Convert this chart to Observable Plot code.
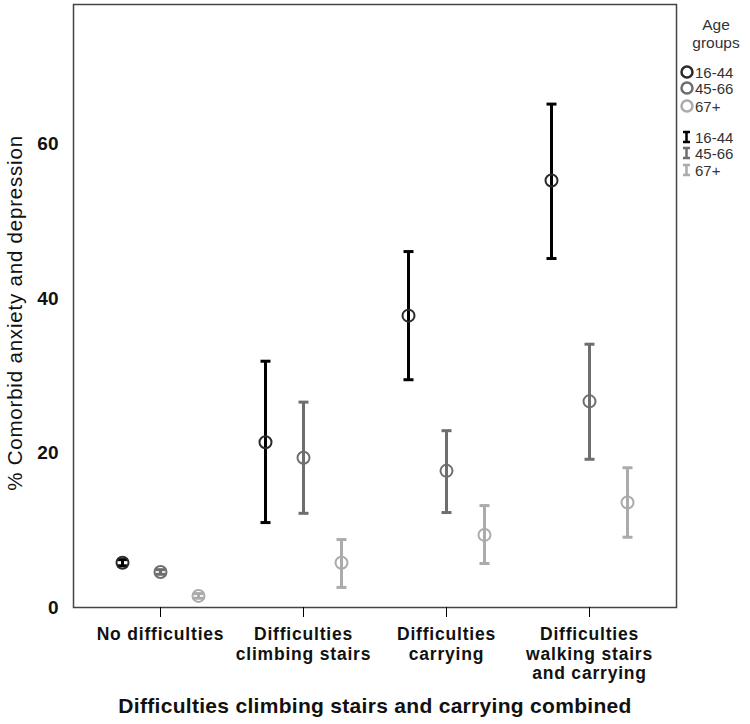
<!DOCTYPE html>
<html><head><meta charset="utf-8">
<script src="https://cdn.jsdelivr.net/npm/d3@7"></script>
<script src="https://cdn.jsdelivr.net/npm/@observablehq/plot@0.6"></script>
<style>
body{margin:0;background:#fff;font-family:"Liberation Sans",Arial,sans-serif}
#wrap{position:relative;width:750px;height:724px;overflow:hidden}
#legend{position:absolute;left:680px;top:0}
</style></head><body><div id="wrap"><div id="chart"></div><div id="legend"></div></div>
<script>
const categories = ["No difficulties","Difficulties climbing stairs","Difficulties carrying","Difficulties walking stairs and carrying"];
const categoryLabels = ["No difficulties","Difficulties\nclimbing stairs","Difficulties\ncarrying","Difficulties\nwalking stairs\nand carrying"];
const ageGroups = ["16-44","45-66","67+"];
const mean1644 = [5.8, 21.4, 37.8, 55.3];
const low1644  = [5.4, 11.0, 29.5, 45.2];
const high1644 = [6.2, 31.9, 46.1, 65.2];
const mean4566 = [4.6, 19.4, 17.7, 26.7];
const low4566  = [4.3, 12.2, 12.3, 19.2];
const high4566 = [4.9, 26.6, 22.9, 34.1];
const mean67   = [1.5, 5.8, 9.4, 13.6];
const low67    = [1.2, 2.6, 5.7, 9.1];
const high67   = [1.8, 8.8, 13.2, 18.1];
const yTicks = [0, 20, 40, 60];
const xTitle = "Difficulties climbing stairs and carrying combined";
const yTitle = "% Comorbid anxiety and depression";

const series = [
  {group: ageGroups[0], mean: mean1644, low: low1644, high: high1644},
  {group: ageGroups[1], mean: mean4566, low: low4566, high: high4566},
  {group: ageGroups[2], mean: mean67, low: low67, high: high67}
];
const barColors = ["#000000", "#6e6e6e", "#ababab"];
const ringColors = ["#2a2a2a", "#6e6e6e", "#ababab"];
const offsets = [-38, 0, 38];
const font = "Liberation Sans, Arial, sans-serif";

const capSymbol = {draw(ctx) { ctx.moveTo(-5, 0); ctx.lineTo(5, 0); }};

const marks = [];
series.forEach((s, gi) => {
  const rows = categories.map((c, i) => ({cat: c, mean: s.mean[i], low: s.low[i], high: s.high[i]}));
  marks.push(
    Plot.ruleX(rows, {x: "cat", y1: "low", y2: "high", dx: offsets[gi], stroke: barColors[gi], strokeWidth: 3}),
    Plot.dot(rows, {x: "cat", y: "low", dx: offsets[gi], symbol: capSymbol, r: 5, fill: "none", stroke: barColors[gi], strokeWidth: 3}),
    Plot.dot(rows, {x: "cat", y: "high", dx: offsets[gi], symbol: capSymbol, r: 5, fill: "none", stroke: barColors[gi], strokeWidth: 3}),
    Plot.dot(rows, {x: "cat", y: "mean", dx: offsets[gi], r: 6, fill: "none", stroke: ringColors[gi], strokeWidth: 2})
  );
});

const chart = Plot.plot({
  width: 750, height: 724,
  marginLeft: 73, marginRight: 74, marginTop: 4, marginBottom: 117,
  style: {fontFamily: font, background: "#fff", overflow: "visible"},
  x: {type: "point", domain: categories, padding: 0.608, axis: null},
  y: {domain: [0, 78.1], axis: null},
  marks: [
    ...marks,
    Plot.frame({stroke: "#444", strokeWidth: 1.5}),
    Plot.axisY({ticks: yTicks, tickSize: 12, tickPadding: 3, fontSize: 19, fontWeight: "bold", fill: "#111", stroke: null, label: null}),
    Plot.axisX({tickSize: 10, tickPadding: 9, fontSize: 17.5, fontWeight: "bold", lineHeight: 1.11, fill: "#111", label: null,
      className: "xticks", tickFormat: d => categoryLabels[categories.indexOf(d)]}),
    Plot.text([xTitle], {frameAnchor: "bottom", dy: 105, fontSize: 21, fontWeight: "bold", fill: "#111", className: "xtitle"}),
    Plot.text([yTitle], {frameAnchor: "left", textAnchor: "middle", dx: -58, dy: 7, rotate: -90, fontSize: 20.5, fill: "#111", className: "ytitle"})
  ]
});
document.getElementById("chart").appendChild(chart);
d3.select(chart).selectAll("g[aria-label='x-axis tick label'] text").style("letter-spacing", "0.8px");
d3.select(chart).selectAll(".xtitle text").style("letter-spacing", "0.3px");
d3.select(chart).selectAll(".ytitle text").style("letter-spacing", "0.8px");

// legend
const lg = d3.select("#legend").append("svg").attr("width", 70).attr("height", 200)
  .style("font-family", font);
lg.append("text").attr("x", 36).attr("y", 30).attr("text-anchor", "middle").attr("font-size", 15.5).attr("fill", "#333").text("Age");
lg.append("text").attr("x", 36).attr("y", 48).attr("text-anchor", "middle").attr("font-size", 15.5).attr("fill", "#333").text("groups");
const ringY = [72, 88, 106];
const barY = [137, 153, 170];
ageGroups.forEach((g, i) => {
  lg.append("circle").attr("cx", 7).attr("cy", ringY[i]).attr("r", 5.5).attr("fill", "none").attr("stroke", ringColors[i]).attr("stroke-width", 2.5);
  lg.append("text").attr("x", 15).attr("y", ringY[i] + 5.5).attr("font-size", 15).attr("fill", "#333").text(g);
  lg.append("path").attr("d", `M3,${barY[i]-5}h7M6.5,${barY[i]-5}v10M3,${barY[i]+5}h7`).attr("fill", "none").attr("stroke", barColors[i]).attr("stroke-width", 2.5);
  lg.append("text").attr("x", 15).attr("y", barY[i] + 5.5).attr("font-size", 15).attr("fill", "#333").text(g);
});
</script></body></html>
